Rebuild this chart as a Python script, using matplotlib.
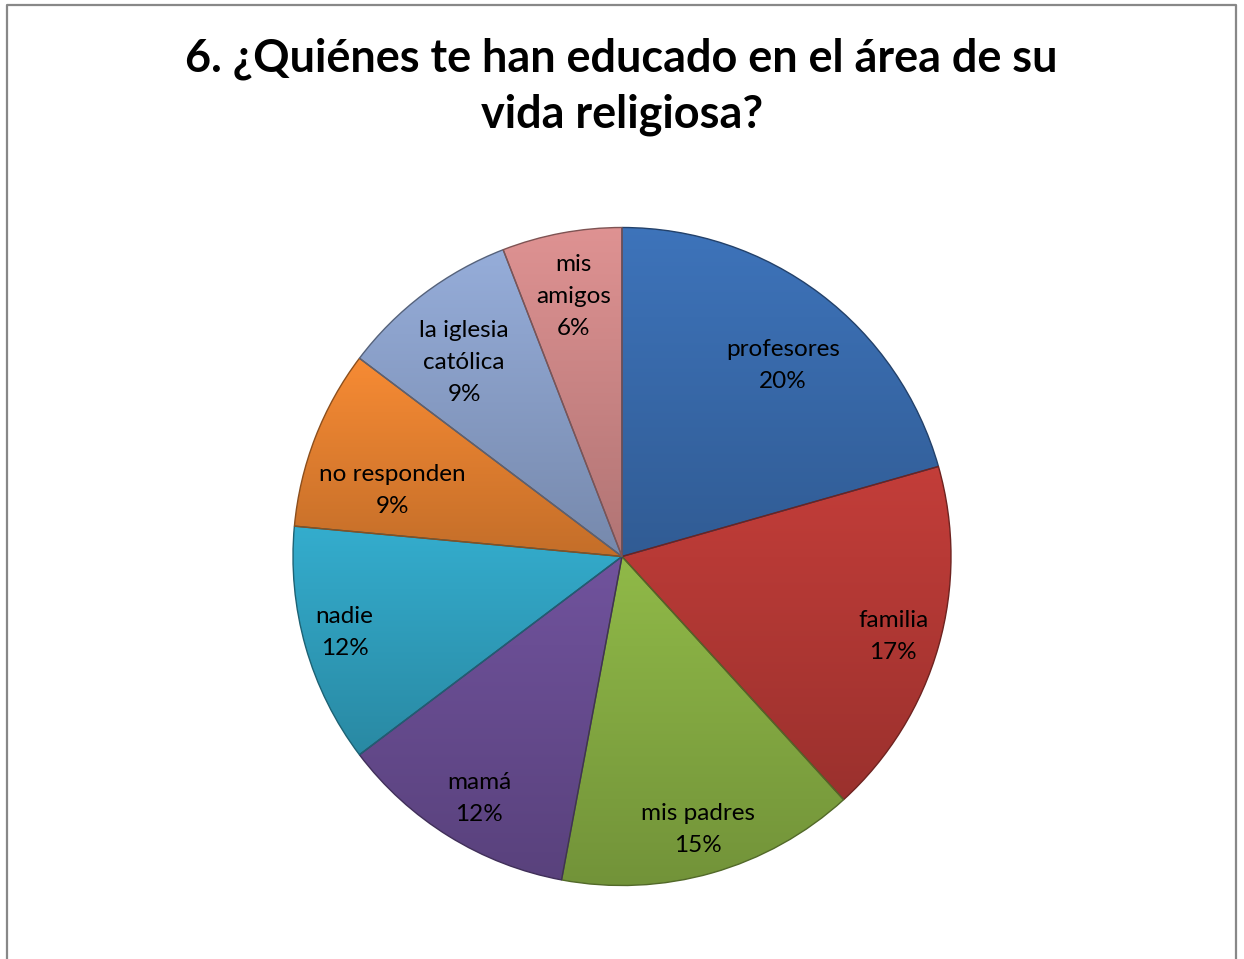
import numpy as np
import matplotlib.pyplot as plt
from matplotlib.colors import to_rgb

# data (counts out of 34 answers)
categories = ['profesores', 'familia', 'mis padres', 'mamá', 'nadie',
              'no responden', 'la iglesia\ncatólica', 'mis\namigos']
counts = [7, 6, 5, 4, 4, 3, 3, 2]
pct_labels = ['20%', '17%', '15%', '12%', '12%', '9%', '9%', '6%']

colors = ['#3A6DB0', '#B83A36', '#88AF44', '#6A4E94',
          '#31A3C2', '#E98331', '#8DA3CD', '#D28A8A']
# label placement ("best fit" inside the slices): distance and angle nudge
label_r = [0.76, 0.86, 0.86, 0.855, 0.875, 0.725, 0.76, 0.805]
label_dth = [-3, -0.6, -0.3, 1.3, -0.5, 5.2, 2.1, 0]

title1 = '6. ¿Quiénes te han educado en el área de su'
title2 = 'vida religiosa?'

W, H = 1244, 959
fig = plt.figure(figsize=(W / 100, H / 100), dpi=100)
fig.patch.set_facecolor('white')

# chart area frame (bottom edge is cut off in the original)
fig.add_artist(plt.Line2D([7 / W, 7 / W, 1236 / W, 1236 / W],
                          [-0.01, 1 - 5 / H, 1 - 5 / H, -0.01],
                          transform=fig.transFigure, color='#888888', lw=1.6))

# title, scaled so line 1 spans the same width as the reference
fs = 30
t1 = fig.text(621 / W, 1 - 72 / H, title1, ha='center', va='baseline',
              fontsize=fs, fontweight='bold', family='Lato')
fig.canvas.draw()
fs = fs * 872 / t1.get_window_extent().width
t1.set_fontsize(fs)
fig.text(622 / W, 1 - 128 / H, title2, ha='center', va='baseline',
         fontsize=fs, fontweight='bold', family='Lato')

# pie
cx, cy, R = 622, 556.5, 329
ax = fig.add_axes([(cx - R) / W, 1 - (cy + R) / H, 2 * R / W, 2 * R / H])
wedges, _ = ax.pie(counts, colors=colors, startangle=90, counterclock=False,
                   radius=1, wedgeprops=dict(linewidth=1.0))

# Excel-like shading: lighter at the top of each slice, darker at the bottom
shade = np.linspace(1.06, 0.84, 256)
for w, c in zip(wedges, colors):
    rgb = np.array(to_rgb(c))
    img = np.clip(shade[:, None, None] * rgb[None, None, :], 0, 1)
    bb = w.get_path().get_extents()
    im = ax.imshow(img, extent=(bb.x0, bb.x1, bb.y0, bb.y1), origin='upper',
                   aspect='auto', interpolation='bilinear', zorder=0.5)
    im.set_clip_path(w)
    w.set_facecolor('none')
    w.set_edgecolor(tuple(rgb * 0.6))
    w.set_zorder(1)

for w, cat, pct, r, dth in zip(wedges, categories, pct_labels, label_r, label_dth):
    ang = np.deg2rad((w.theta1 + w.theta2) / 2 + dth)
    ax.text(r * np.cos(ang), r * np.sin(ang), f'{cat}\n{pct}', ha='center',
            va='center', fontsize=17.5, family='Lato', linespacing=1.65, zorder=3)

ax.set_xlim(-1.0, 1.0)
ax.set_ylim(-1.0, 1.0)
ax.axis('off')

fig.savefig('out.png', dpi=100)
